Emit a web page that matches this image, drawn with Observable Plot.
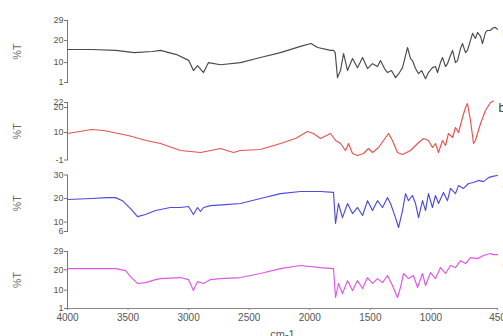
<!DOCTYPE html>
<html><head><meta charset="utf-8">
<script src="https://cdn.jsdelivr.net/npm/d3@7"></script>
<script src="https://cdn.jsdelivr.net/npm/@observablehq/plot@0.6"></script>
<style>
body{margin:0;background:#fff;}
#chart{position:relative;width:503px;height:336px;overflow:hidden;background:#fff;}
#chart svg{position:absolute;left:0;top:0;}
</style>
</head><body><div id="chart"></div>
<script>
// Wavenumbers (cm-1) and %T
const wnA = [4000,3800,3600,3450,3300,3232,3100,3000,2960,2926,2877,2836,2737,2572,2407,2242,2076,1990,1935,1828,1804,1790,1771,1746,1721,1688,1647,1606,1564,1523,1482,1441,1416,1383,1358,1325,1292,1259,1234,1193,1168,1152,1127,1102,1077,1044,1020,987,962,945,921,904,879,863,838,821,797,780,755,739,714,698,673,656,632,615,590,574,549,533,508,491,467,450];
const tA  = [15.9,15.9,15.5,14.5,15,15.5,13.6,11,6.4,8.6,5.5,10,9,10,12.3,14.5,17.3,18.6,16.8,15.5,15.5,14.5,3.2,6.4,14.1,6.4,11.8,7.7,12.3,7.3,9.5,8.2,10.9,7.3,5.5,6.4,3.2,5.5,7.7,16.8,11.8,10.9,7.3,5,6.4,2.7,5.5,7.7,8.2,5.5,10,12.3,8.2,9.5,13.2,15.5,10,10.9,16.4,18.6,14.5,15.5,20,23.2,20.9,23.6,21.8,18.6,23.6,24.5,24.5,25.5,25.9,25];

const wnB = [4000,3800,3700,3500,3350,3232,3067,2901,2737,2630,2572,2407,2242,2118,2019,1969,1911,1828,1787,1746,1705,1680,1647,1606,1556,1515,1482,1432,1391,1350,1317,1276,1234,1168,1110,1061,1020,987,962,937,904,879,855,821,797,772,739,714,698,673,648,632,590,549,508,483];
const tB  = [9.6,11.2,10.8,8.8,6.8,5.6,2.8,2,3.6,2,2.8,3.2,5.6,7.6,10.4,9.6,7.6,9.6,6.8,5.6,2.8,5.6,1.6,0.8,1.6,3.6,2,4,6.8,9.6,6.8,2,1.2,2.8,5.6,7.6,6.8,4,5.6,2,6.8,4.8,9.6,8,12,10,16,20,21.6,14.8,5.6,6.8,13.6,18.8,22,22.6];

const wnC = [4000,3800,3670,3604,3546,3480,3422,3356,3273,3150,3067,3001,2960,2927,2902,2877,2819,2696,2572,2407,2242,2076,1911,1804,1787,1763,1730,1688,1647,1606,1564,1523,1482,1441,1399,1358,1333,1292,1267,1234,1209,1185,1152,1127,1102,1069,1044,1020,987,962,937,896,863,838,797,772,731,689,648,607,566,524,491,450];
const tC  = [19.6,20,20.4,20.4,19.1,15.7,12.3,13.2,14.9,16.2,16.2,16.6,13.2,16.2,14.5,16.2,17,17.4,17.9,20,22.1,23,23,22.6,9.4,17.9,11.9,17.9,13.6,16.2,12.8,19.1,14.9,19.1,16.2,20.4,17.9,11.9,7.7,14.9,22.1,19.1,21.3,17.9,11.9,19.1,14.9,22.1,16.2,21.3,17.9,22.6,19.1,24.3,22.1,25.5,24.3,26.4,26.8,27.7,27.2,28.9,29.4,29.8];

const wnD = [4000,3800,3600,3520,3480,3422,3356,3273,3232,3067,3001,2960,2927,2877,2819,2737,2572,2407,2242,2076,1911,1804,1787,1763,1730,1688,1647,1606,1564,1523,1482,1441,1399,1358,1317,1276,1251,1226,1185,1144,1110,1069,1044,1003,962,921,879,838,797,755,714,673,615,566,508,491,450];
const tD  = [20.6,20.6,20.6,19.6,16.7,13.3,13.7,15.2,15.7,16.2,15.2,9.8,14.2,13.3,15.2,15.7,16.2,18.2,20.6,22.1,21.1,20.6,6.4,13.3,8.4,14.7,9.8,14.7,10.8,16.2,13.3,15.7,13.7,17.2,12.3,6.4,11.3,18.2,15.7,17.2,11.3,18.2,12.3,18.6,15.7,21.1,18.2,22.1,21.1,24.5,23.1,26,25.5,27,28,27.5,27.5];

const xTicks = [4000,3500,3000,2500,2000,1500,1000,450];
const yTicksA = [1,10,20,29];
const yTicksB = [-1,10,20,22];
const yTicksC = [6,10,20,30];
const yTicksD = [1,10,20,29];
const names = ["a","b","c","d"];
const yLabel = "%T";
const xLabel = "cm-1";

const panels = [
  {name:names[0], wn:wnA, t:tA, ticks:yTicksA, domain:[1,29],  color:"#4a4a4a", top:20,    bottom:82,  dy:2},
  {name:names[1], wn:wnB, t:tB, ticks:yTicksB, domain:[-1,22], color:"#e9514c", top:102,   bottom:159.5, dy:7},
  {name:names[2], wn:wnC, t:tC, ticks:yTicksC, domain:[6,30],  color:"#4b4be0", top:174.5, bottom:231, dy:11},
  {name:names[3], wn:wnD, t:tD, ticks:yTicksD, domain:[1,29],  color:"#e055e6", top:251,   bottom:308, dy:11}
];

const W = 503, H = 336;
const chart = document.getElementById("chart");
panels.forEach((p, k) => {
  const last = k === panels.length - 1;
  const rows = p.wn.map((w, i) => ({wn: w, t: p.t[i]}));
  const marks = [
    Plot.frame({anchor: "left", stroke: "#777"}),
    Plot.axisY({ticks: p.ticks, tickSize: 3, tickPadding: 1, tickFormat: d => String(d),
      label: null, stroke: "#777"}),
    Plot.axisY({ticks: [], tickSize: 0, label: yLabel, labelAnchor: "center", labelArrow: "none",
      labelOffset: 54, fontSize: 10.5, fill: "#666"}),
    Plot.line(rows, {x: "wn", y: "t", stroke: p.color, strokeWidth: 1.15}),
    Plot.text([rows[rows.length - 1]], {x: "wn", y: "t", text: () => p.name, dx: 5, dy: p.dy,
      textAnchor: "start", fontSize: 12, fill: "#333"})
  ];
  if (last) {
    marks.push(Plot.frame({anchor: "bottom", stroke: "#888"}));
    marks.push(Plot.axisX({ticks: xTicks, tickSize: 2, tickFormat: d => String(d), tickPadding: 3,
      label: null, fontSize: 10, stroke: "#888"}));
    marks.push(Plot.axisX({ticks: [], tickSize: 0, label: xLabel, labelAnchor: "center", labelArrow: "none",
      labelOffset: 29, fontSize: 11, fill: "#555"}));
  }
  const svg = Plot.plot({
    width: W, height: H,
    marginLeft: 67, marginRight: 6, marginTop: p.top, marginBottom: H - p.bottom,
    style: {background: "transparent", fontFamily: "'Liberation Sans', Arial, sans-serif", fontSize: "9px", color: "#555", overflow: "visible"},
    x: {domain: [4000, 450], axis: null},
    y: {domain: p.domain, axis: null},
    marks
  });
  chart.appendChild(svg);
});
</script>
</body></html>
